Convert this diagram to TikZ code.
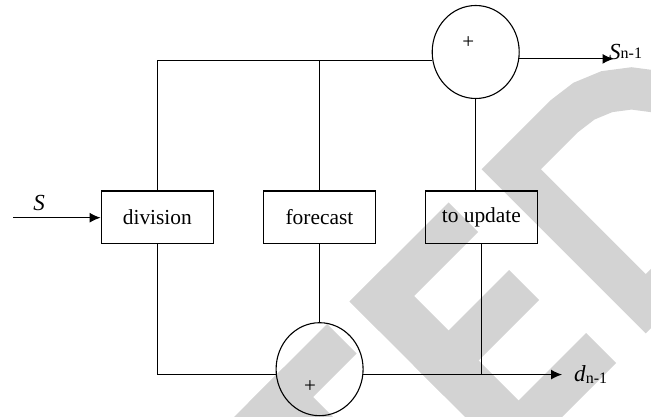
\documentclass[tikz,border=0pt]{standalone}
\usepackage{fontspec}
\setmainfont{Liberation Serif}
\usetikzlibrary{arrows.meta,shapes.geometric,calc}
\definecolor{wm}{RGB}{211,211,211}
\newcommand{\wmrect}[4]{\fill (#1,#2) -- (#3,#2) -- (#3,#4) -- (#1,#4) -- cycle;}
\begin{document}
\begin{tikzpicture}[x=1pt,y=-1pt,
  line/.style={line width=1.1pt},
  blk/.style={draw,line width=1.1pt,minimum width=112.5pt,minimum height=52.7pt,inner sep=0pt,font=\fontsize{21.4}{24}\selectfont},
  sumnode/.style={draw,ellipse,line width=1.1pt,minimum width=87pt,minimum height=93pt,inner sep=0pt},
  plus/.style={inner sep=0pt,font=\fontsize{21}{24}\selectfont},
  arr/.style={line width=1.1pt,-{Latex[length=11pt,width=10pt]}},
  lbl/.style={inner sep=0pt,font=\fontsize{23}{26}\selectfont}]
\useasboundingbox (0,0) rectangle (651,417);
\fill[white] (0,0) rectangle (651,417);
% watermark
\begin{scope}
\clip (0,0) rectangle (651,417);
\begin{scope}[x={(0.5pt,0.5pt)},y={(-0.5pt,0.5pt)},fill=wm]
\wmrect{-241}{-651}{3}{-710}
\wmrect{-154}{-651}{-84}{-1000}
\wmrect{48}{-651}{118}{-979}
\wmrect{48}{-651}{246}{-710}
\wmrect{48}{-779}{239}{-839}
\wmrect{48}{-919}{253}{-979}
\end{scope}
\draw[wm,line width=42pt,line join=miter] (645.75,303.75) -- (511.25,169.25) -- (564.25,116.25)
  -- (583.95,101.14) -- (606.89,91.64) -- (631.5,88.4) -- (656.11,91.64) -- (679.05,101.14)
  -- (698.75,116.25) -- (713.86,135.95) -- (723.36,158.89) -- (726.6,183.5) -- (723.36,208.11)
  -- (713.86,231.05) -- (698.75,250.75) -- cycle;
\end{scope}
% nodes
\node[blk] (division) at (157.35,217.35) {division};
\node[blk] (forecast) at (319.45,217.35) {forecast};
\node[blk] (update) at (481.35,217.35) {to update};
\node[sumnode] (topc) at (475.7,52) {};
\node[sumnode] (botc) at (319.6,369.2) {};
\node[plus] (ptop) at (468.3,42.7) {+};
\node[plus] (pbot) at (310,386.7) {+};
\coordinate (sin) at (13.3,217.7);
\coordinate (sout) at (613.5,59.5);
\coordinate (dout) at (562,374.7);
% connectors
\draw[arr] (sin) -- (sin -| division.west);
\draw[line] (division.north) |- (topc.191);
\draw[line] (forecast.north) -- (forecast.north |- topc.191);
\draw[line] (topc.south) -- (topc.south |- update.north);
\draw[arr] (topc.351) -- (topc.351 -| sout);
\draw[line] (division.south) |- (botc.187);
\draw[line] (forecast.south) -- (forecast.south |- botc.north);
\draw[arr] (botc.353) -- (botc.353 -| dout);
\draw[line] (update.south) -- (update.south |- botc.353);
% labels
\node[inner sep=0pt,font=\itshape\fontsize{23}{26}\selectfont] (slbl) at (39.2,202.5) {S};
\node[lbl,anchor=base west] (snlbl) at (609,59.5) {\textit{S}\raisebox{0.5pt}{\fontsize{16}{16}\selectfont n-1}};
\node[lbl,anchor=base west] (dnlbl) at (574,381.5) {\textit{d}\raisebox{-1.5pt}{\fontsize{16}{16}\selectfont n-1}};
\end{tikzpicture}
\end{document}
